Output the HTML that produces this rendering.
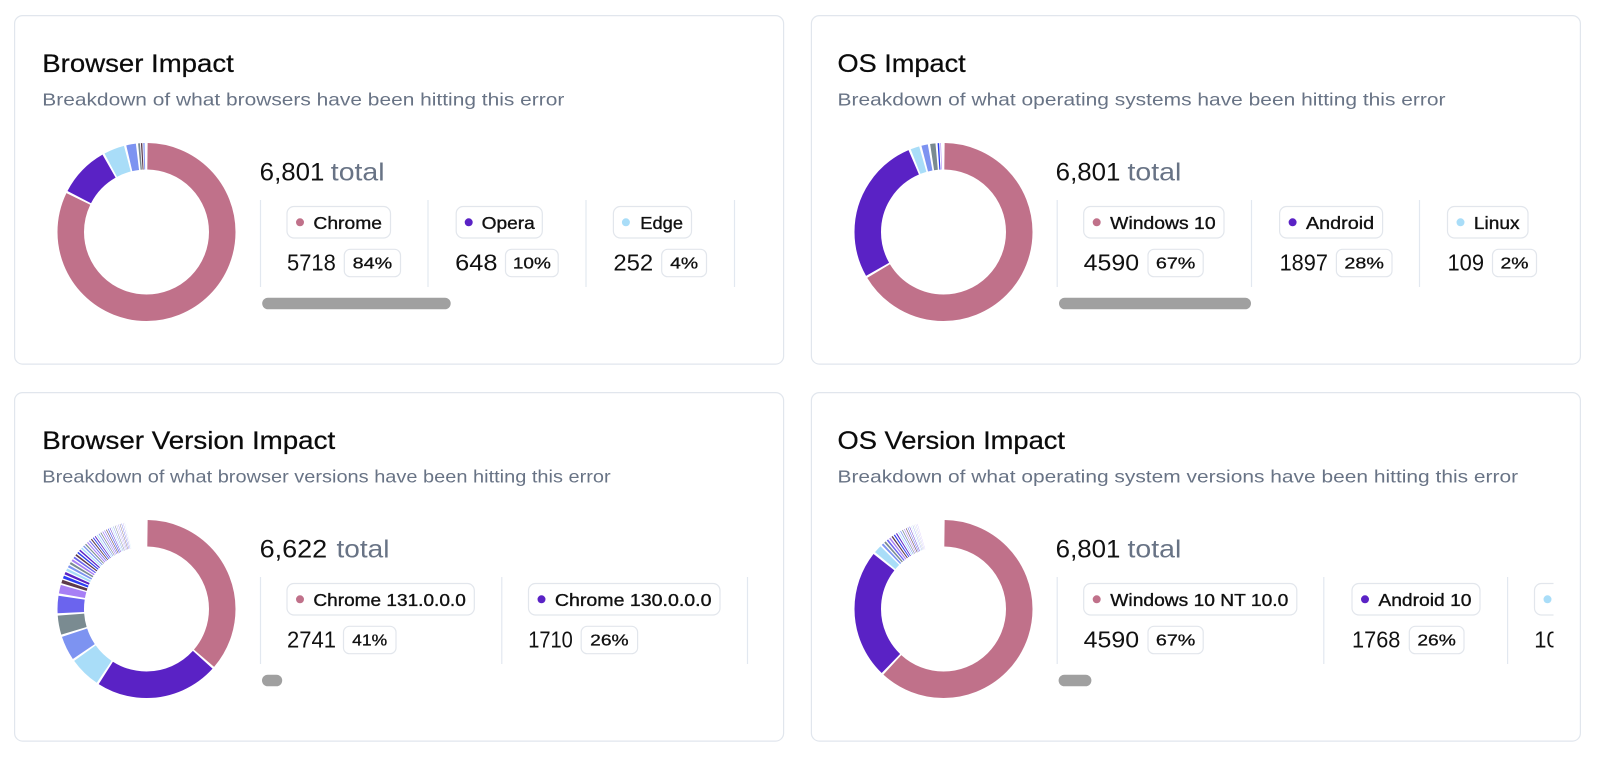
<!DOCTYPE html>
<html><head><meta charset="utf-8"><style>
html,body{margin:0;padding:0;background:#fff;width:1600px;height:768px;overflow:hidden}
svg{display:block}
text{font-family:"Liberation Sans",Arial,sans-serif}
.t{font-size:25px;fill:#0b0b0b;stroke:#0b0b0b;stroke-width:0.25px}
.s{font-size:17.5px;fill:#687385}
.tot{font-size:25px;fill:#111}
.totg{font-size:25px;fill:#687385}
.pl{font-size:17.5px;fill:#111;stroke:#111;stroke-width:0.35px}
.num{font-size:23px;fill:#111}
.bd{font-size:16px;fill:#111;stroke:#111;stroke-width:0.3px}
.pill{fill:#fff;stroke:#e2e6ec;stroke-width:1.2}
.div{stroke:#e2e8f0;stroke-width:1.2}
.card{fill:#fff;stroke:#e1e6ed;stroke-width:1.2}
.sb{fill:#a0a0a0}
.ring circle{fill:none;stroke-width:26.5}
</style></head><body>
<svg width="1600" height="768" viewBox="0 0 1600 768" xmlns="http://www.w3.org/2000/svg">
<defs>
<clipPath id="c4"><rect x="1040" y="560" width="513.5" height="140"/></clipPath>
<clipPath id="c1"><rect x="250" y="190" width="506.5" height="130"/></clipPath>
<clipPath id="c2"><rect x="1040" y="190" width="513.5" height="130"/></clipPath>
<clipPath id="c3"><rect x="250" y="560" width="506.5" height="140"/></clipPath>
</defs>

<!-- cards -->
<rect class="card" x="14.6" y="15.6" width="769" height="348.5" rx="8"/>
<rect class="card" x="811.4" y="15.6" width="769" height="348.5" rx="8"/>
<rect class="card" x="14.6" y="392.6" width="769" height="348.5" rx="8"/>
<rect class="card" x="811.4" y="392.6" width="769" height="348.5" rx="8"/>

<!-- ================= CARD 1: Browser Impact ================= -->
<text class="t" x="42.3" y="72" textLength="191.5" lengthAdjust="spacingAndGlyphs">Browser Impact</text>
<text class="s" x="42.3" y="105.5" textLength="522" lengthAdjust="spacingAndGlyphs">Breakdown of what browsers have been hitting this error</text>

<g class="ring" transform="translate(146.5,232) rotate(-90)">
<circle r="75.75" pathLength="360" stroke="#c0718a" stroke-dasharray="295.5 400" stroke-dashoffset="-0.75"/>
<circle r="75.75" pathLength="360" stroke="#5a22c5" stroke-dasharray="33 400" stroke-dashoffset="-297.75"/>
<circle r="75.75" pathLength="360" stroke="#a9ddf8" stroke-dasharray="13.5 400" stroke-dashoffset="-332.25"/>
<circle r="75.75" pathLength="360" stroke="#7d93f1" stroke-dasharray="6.3 400" stroke-dashoffset="-347.25"/>
<circle r="75.75" pathLength="360" stroke="#7a8b91" stroke-dasharray="1.2 400" stroke-dashoffset="-355"/>
<circle r="75.75" pathLength="360" stroke="#5d3a4a" stroke-dasharray="0.9 400" stroke-dashoffset="-356.8"/>
<circle r="75.75" pathLength="360" stroke="#8a9cf5" stroke-dasharray="0.9 400" stroke-dashoffset="-358.3"/>
</g>

<text x="259.7" y="180.3" class="tot" textLength="64.7" lengthAdjust="spacingAndGlyphs">6,801</text>
<text x="330.8" y="180.3" class="totg" textLength="53.8" lengthAdjust="spacingAndGlyphs">total</text>

<g clip-path="url(#c1)">
<line class="div" x1="260.5" y1="200" x2="260.5" y2="287"/>
<line class="div" x1="428" y1="200" x2="428" y2="287"/>
<line class="div" x1="586" y1="200" x2="586" y2="287"/>
<line class="div" x1="734.5" y1="200" x2="734.5" y2="287"/>

<rect class="pill" x="287" y="206.5" width="103.5" height="31.5" rx="7"/>
<circle cx="300" cy="222.3" r="4" fill="#c0718a"/>
<text class="pl" x="313.4" y="228.8" textLength="68.6" lengthAdjust="spacingAndGlyphs">Chrome</text>
<text class="num" x="287" y="270.7" textLength="48.8" lengthAdjust="spacingAndGlyphs">5718</text>
<rect class="pill" x="344.3" y="249.3" width="56.2" height="27.4" rx="6"/>
<text class="bd" x="372.4" y="268.7" text-anchor="middle" textLength="39.5" lengthAdjust="spacingAndGlyphs">84%</text>

<rect class="pill" x="456.2" y="206.5" width="86.1" height="31.5" rx="7"/>
<circle cx="468.7" cy="222.3" r="4" fill="#5a22c5"/>
<text class="pl" x="481.6" y="228.8" textLength="53.2" lengthAdjust="spacingAndGlyphs">Opera</text>
<text class="num" x="455.2" y="270.7" textLength="42.3" lengthAdjust="spacingAndGlyphs">648</text>
<rect class="pill" x="505.5" y="249.3" width="52.7" height="27.4" rx="6"/>
<text class="bd" x="531.85" y="268.7" text-anchor="middle" textLength="38" lengthAdjust="spacingAndGlyphs">10%</text>

<rect class="pill" x="613.4" y="206.5" width="78.1" height="31.5" rx="7"/>
<circle cx="625.9" cy="222.3" r="4" fill="#a9ddf8"/>
<text class="pl" x="640.3" y="228.8" textLength="42.7" lengthAdjust="spacingAndGlyphs">Edge</text>
<text class="num" x="613.4" y="270.7" textLength="39.8" lengthAdjust="spacingAndGlyphs">252</text>
<rect class="pill" x="661.7" y="249.3" width="44.8" height="27.4" rx="6"/>
<text class="bd" x="684.1" y="268.7" text-anchor="middle" textLength="28" lengthAdjust="spacingAndGlyphs">4%</text>
</g>
<rect class="sb" x="262.2" y="297.7" width="188.5" height="11.6" rx="5.8"/>

<!-- ================= CARD 2: OS Impact ================= -->
<text class="t" x="837.5" y="72" textLength="128.2" lengthAdjust="spacingAndGlyphs">OS Impact</text>
<text class="s" x="837.5" y="105.5" textLength="608" lengthAdjust="spacingAndGlyphs">Breakdown of what operating systems have been hitting this error</text>

<g class="ring" transform="translate(943.5,232) rotate(-90)">
<circle r="75.75" pathLength="360" stroke="#c0718a" stroke-dasharray="238.5 400" stroke-dashoffset="-0.75"/>
<circle r="75.75" pathLength="360" stroke="#5a22c5" stroke-dasharray="96.5 400" stroke-dashoffset="-240.75"/>
<circle r="75.75" pathLength="360" stroke="#a9ddf8" stroke-dasharray="5.8 400" stroke-dashoffset="-338.75"/>
<circle r="75.75" pathLength="360" stroke="#7d93f1" stroke-dasharray="4.2 400" stroke-dashoffset="-346.05"/>
<circle r="75.75" pathLength="360" stroke="#7a8b91" stroke-dasharray="3.5 400" stroke-dashoffset="-351.75"/>
<circle r="75.75" pathLength="360" stroke="#2c3cf2" stroke-dasharray="1.0 400" stroke-dashoffset="-356.6"/>
<circle r="75.75" pathLength="360" stroke="#a77ff5" stroke-dasharray="0.4 400" stroke-dashoffset="-358.4"/>
</g>

<text x="1055.7" y="180.3" class="tot" textLength="64.7" lengthAdjust="spacingAndGlyphs">6,801</text>
<text x="1127.5" y="180.3" class="totg" textLength="53.8" lengthAdjust="spacingAndGlyphs">total</text>

<g clip-path="url(#c2)">
<line class="div" x1="1057.2" y1="200" x2="1057.2" y2="287"/>
<line class="div" x1="1251.5" y1="200" x2="1251.5" y2="287"/>
<line class="div" x1="1419.5" y1="200" x2="1419.5" y2="287"/>

<rect class="pill" x="1083.7" y="206.5" width="140.3" height="31.5" rx="7"/>
<circle cx="1096.7" cy="222.3" r="4" fill="#c0718a"/>
<text class="pl" x="1110.2" y="228.8" textLength="105.4" lengthAdjust="spacingAndGlyphs">Windows 10</text>
<text class="num" x="1083.7" y="270.7" textLength="55.4" lengthAdjust="spacingAndGlyphs">4590</text>
<rect class="pill" x="1148" y="249.3" width="55.2" height="27.4" rx="6"/>
<text class="bd" x="1175.6" y="268.7" text-anchor="middle" textLength="39.5" lengthAdjust="spacingAndGlyphs">67%</text>

<rect class="pill" x="1279.6" y="206.5" width="103" height="31.5" rx="7"/>
<circle cx="1292.6" cy="222.3" r="4" fill="#5a22c5"/>
<text class="pl" x="1306" y="228.8" textLength="68.1" lengthAdjust="spacingAndGlyphs">Android</text>
<text class="num" x="1279.6" y="270.7" textLength="48.3" lengthAdjust="spacingAndGlyphs">1897</text>
<rect class="pill" x="1336.4" y="249.3" width="55.6" height="27.4" rx="6"/>
<text class="bd" x="1364.2" y="268.7" text-anchor="middle" textLength="39.5" lengthAdjust="spacingAndGlyphs">28%</text>

<rect class="pill" x="1447.5" y="206.5" width="80.5" height="31.5" rx="7"/>
<circle cx="1460.5" cy="222.3" r="4" fill="#a9ddf8"/>
<text class="pl" x="1473.9" y="228.8" textLength="45.6" lengthAdjust="spacingAndGlyphs">Linux</text>
<text class="num" x="1447.5" y="270.7" textLength="36.5" lengthAdjust="spacingAndGlyphs">109</text>
<rect class="pill" x="1492.5" y="249.3" width="44" height="27.4" rx="6"/>
<text class="bd" x="1514.5" y="268.7" text-anchor="middle" textLength="28" lengthAdjust="spacingAndGlyphs">2%</text>
</g>
<rect class="sb" x="1059" y="297.7" width="192" height="11.6" rx="5.8"/>

<!-- ================= CARD 3: Browser Version Impact ================= -->
<text class="t" x="42.3" y="449" textLength="292.9" lengthAdjust="spacingAndGlyphs">Browser Version Impact</text>
<text class="s" x="42.3" y="482.5" textLength="568.4" lengthAdjust="spacingAndGlyphs">Breakdown of what browser versions have been hitting this error</text>

<g class="ring" transform="translate(146.5,609) rotate(-90)">
<circle r="75.75" pathLength="360" stroke="#c0718a" stroke-dasharray="130 400" stroke-dashoffset="-0.75"/>
<circle r="75.75" pathLength="360" stroke="#5a22c5" stroke-dasharray="80.5 400" stroke-dashoffset="-132.25"/>
<circle r="75.75" pathLength="360" stroke="#a9ddf8" stroke-dasharray="20.4 400" stroke-dashoffset="-214.25"/>
<circle r="75.75" pathLength="360" stroke="#7d93f1" stroke-dasharray="15.9 400" stroke-dashoffset="-236.15"/>
<circle r="75.75" pathLength="360" stroke="#7a8b91" stroke-dasharray="12.5 400" stroke-dashoffset="-253.55"/>
<circle r="75.75" pathLength="360" stroke="#6b64ee" stroke-dasharray="11.4 400" stroke-dashoffset="-267.55"/>
<circle r="75.75" pathLength="360" stroke="#a77ff5" stroke-dasharray="5.6 400" stroke-dashoffset="-280.45"/>
<circle r="75.75" pathLength="360" stroke="#5d3a4a" stroke-dasharray="2.3 400" stroke-dashoffset="-287.25"/>
<circle r="75.75" pathLength="360" stroke="#2c3cf2" stroke-dasharray="1.9 400" stroke-dashoffset="-290.45"/>
<circle r="75.75" pathLength="360" stroke="#5a22c5" stroke-dasharray="1.7 400" stroke-dashoffset="-293.25"/>
<circle r="75.75" pathLength="360" stroke="#a9ddf8" stroke-dasharray="1.6 400" stroke-dashoffset="-295.85"/>
<circle r="75.75" pathLength="360" stroke="#7d93f1" stroke-dasharray="1.5 400" stroke-dashoffset="-298.35"/>
<circle r="75.75" pathLength="360" stroke="#7a8b91" stroke-dasharray="1.4 400" stroke-dashoffset="-300.75"/>
<circle r="75.75" pathLength="360" stroke="#a77ff5" stroke-dasharray="1.3 400" stroke-dashoffset="-303.05"/>
<circle r="75.75" pathLength="360" stroke="#6b64ee" stroke-dasharray="1.2 400" stroke-dashoffset="-305.25"/>
<circle r="75.75" pathLength="360" stroke="#5d3a4a" stroke-dasharray="1.1 400" stroke-dashoffset="-307.35"/>
<circle r="75.75" pathLength="360" stroke="#2c3cf2" stroke-dasharray="1.0 400" stroke-dashoffset="-309.35"/>
<circle r="75.75" pathLength="360" stroke="#5a22c5" stroke-dasharray="1.0 400" stroke-dashoffset="-311.25"/>
<circle r="75.75" pathLength="360" stroke="#a9ddf8" stroke-dasharray="0.9 400" stroke-dashoffset="-313.15"/>
<circle r="75.75" pathLength="360" stroke="#7d93f1" stroke-dasharray="0.9 400" stroke-dashoffset="-314.95"/>
<circle r="75.75" pathLength="360" stroke="#7a8b91" stroke-dasharray="0.8 400" stroke-dashoffset="-316.75"/>
<circle r="75.75" pathLength="360" stroke="#a77ff5" stroke-dasharray="0.8 400" stroke-dashoffset="-318.45"/>
<circle r="75.75" pathLength="360" stroke="#6b64ee" stroke-dasharray="0.7 400" stroke-dashoffset="-320.15"/>
<circle r="75.75" pathLength="360" stroke="#5d3a4a" stroke-dasharray="0.7 400" stroke-dashoffset="-321.75"/>
<circle r="75.75" pathLength="360" stroke="#2c3cf2" stroke-dasharray="0.6 400" stroke-dashoffset="-323.35"/>
<circle r="75.75" pathLength="360" stroke="#5a22c5" stroke-dasharray="0.6 400" stroke-dashoffset="-324.85"/>
<circle r="75.75" pathLength="360" stroke="#a9ddf8" stroke-dasharray="0.6 400" stroke-dashoffset="-326.35"/>
<circle r="75.75" pathLength="360" stroke="#7d93f1" stroke-dasharray="0.5 400" stroke-dashoffset="-327.85"/>
<circle r="75.75" pathLength="360" stroke="#7a8b91" stroke-dasharray="0.5 400" stroke-dashoffset="-329.25"/>
<circle r="75.75" pathLength="360" stroke="#a77ff5" stroke-dasharray="0.5 400" stroke-dashoffset="-330.65"/>
<circle r="75.75" pathLength="360" stroke="#6b64ee" stroke-dasharray="0.4 400" stroke-dashoffset="-332.05"/>
<circle r="75.75" pathLength="360" stroke="#5d3a4a" stroke-dasharray="0.4 400" stroke-dashoffset="-333.35"/>
<circle r="75.75" pathLength="360" stroke="#2c3cf2" stroke-dasharray="0.4 400" stroke-dashoffset="-334.65"/>
<circle r="75.75" pathLength="360" stroke="#5a22c5" stroke-dasharray="0.3 400" stroke-dashoffset="-335.95"/>
<circle r="75.75" pathLength="360" stroke="#a9ddf8" stroke-dasharray="0.3 400" stroke-dashoffset="-337.15"/>
<circle r="75.75" pathLength="360" stroke="#7d93f1" stroke-dasharray="0.3 400" stroke-dashoffset="-338.35"/>
<circle r="75.75" pathLength="360" stroke="#7a8b91" stroke-dasharray="0.3 400" stroke-dashoffset="-339.55"/>
<circle r="75.75" pathLength="360" stroke="#a77ff5" stroke-dasharray="0.2 400" stroke-dashoffset="-340.75"/>
<circle r="75.75" pathLength="360" stroke="#6b64ee" stroke-dasharray="0.2 400" stroke-dashoffset="-341.85"/>
<circle r="75.75" pathLength="360" stroke="#5d3a4a" stroke-dasharray="0.2 400" stroke-dashoffset="-342.95"/>
<circle r="75.75" pathLength="360" stroke="#2c3cf2" stroke-dasharray="0.2 400" stroke-dashoffset="-344.05"/>
<circle r="75.75" pathLength="360" stroke="#5a22c5" stroke-dasharray="0.1 400" stroke-dashoffset="-345.15"/>
<circle r="75.75" pathLength="360" stroke="#a9ddf8" stroke-dasharray="0.1 400" stroke-dashoffset="-346.15"/>
</g>

<text x="259.6" y="557.3" class="tot" textLength="67.6" lengthAdjust="spacingAndGlyphs">6,622</text>
<text x="336.5" y="557.3" class="totg" textLength="53" lengthAdjust="spacingAndGlyphs">total</text>

<g clip-path="url(#c3)">
<line class="div" x1="260.5" y1="577" x2="260.5" y2="664"/>
<line class="div" x1="501.8" y1="577" x2="501.8" y2="664"/>
<line class="div" x1="747.5" y1="577" x2="747.5" y2="664"/>

<rect class="pill" x="287" y="583.5" width="187.3" height="31.5" rx="7"/>
<circle cx="300" cy="599.3" r="4" fill="#c0718a"/>
<text class="pl" x="313.4" y="605.8" textLength="152.4" lengthAdjust="spacingAndGlyphs">Chrome 131.0.0.0</text>
<text class="num" x="287" y="647.7" textLength="49" lengthAdjust="spacingAndGlyphs">2741</text>
<rect class="pill" x="343.5" y="626.3" width="52.5" height="27.4" rx="6"/>
<text class="bd" x="369.7" y="645.7" text-anchor="middle" textLength="35" lengthAdjust="spacingAndGlyphs">41%</text>

<rect class="pill" x="528.5" y="583.5" width="191.5" height="31.5" rx="7"/>
<circle cx="541.5" cy="599.3" r="4" fill="#5a22c5"/>
<text class="pl" x="554.9" y="605.8" textLength="156.6" lengthAdjust="spacingAndGlyphs">Chrome 130.0.0.0</text>
<text class="num" x="528.2" y="647.7" textLength="44.6" lengthAdjust="spacingAndGlyphs">1710</text>
<rect class="pill" x="581.2" y="626.3" width="56.4" height="27.4" rx="6"/>
<text class="bd" x="609.4" y="645.7" text-anchor="middle" textLength="38.5" lengthAdjust="spacingAndGlyphs">26%</text>
</g>
<rect class="sb" x="262" y="674.7" width="20.2" height="11.6" rx="5.8"/>

<!-- ================= CARD 4: OS Version Impact ================= -->
<text class="t" x="837.5" y="449" textLength="227.5" lengthAdjust="spacingAndGlyphs">OS Version Impact</text>
<text class="s" x="837.5" y="482.5" textLength="680.6" lengthAdjust="spacingAndGlyphs">Breakdown of what operating system versions have been hitting this error</text>

<g class="ring" transform="translate(943.5,609) rotate(-90)">
<circle r="75.75" pathLength="360" stroke="#c0718a" stroke-dasharray="222 400" stroke-dashoffset="-0.75"/>
<circle r="75.75" pathLength="360" stroke="#5a22c5" stroke-dasharray="84.3 400" stroke-dashoffset="-224.25"/>
<circle r="75.75" pathLength="360" stroke="#a9ddf8" stroke-dasharray="5.2 400" stroke-dashoffset="-310.05"/>
<circle r="75.75" pathLength="360" stroke="#7d93f1" stroke-dasharray="1.3 400" stroke-dashoffset="-316.45"/>
<circle r="75.75" pathLength="360" stroke="#7a8b91" stroke-dasharray="1.2 400" stroke-dashoffset="-318.65"/>
<circle r="75.75" pathLength="360" stroke="#6b64ee" stroke-dasharray="1.1 400" stroke-dashoffset="-320.75"/>
<circle r="75.75" pathLength="360" stroke="#a77ff5" stroke-dasharray="1.0 400" stroke-dashoffset="-322.75"/>
<circle r="75.75" pathLength="360" stroke="#5d3a4a" stroke-dasharray="0.9 400" stroke-dashoffset="-324.65"/>
<circle r="75.75" pathLength="360" stroke="#2c3cf2" stroke-dasharray="0.8 400" stroke-dashoffset="-326.45"/>
<circle r="75.75" pathLength="360" stroke="#5a22c5" stroke-dasharray="0.7 400" stroke-dashoffset="-328.15"/>
<circle r="75.75" pathLength="360" stroke="#a9ddf8" stroke-dasharray="0.6 400" stroke-dashoffset="-329.75"/>
<circle r="75.75" pathLength="360" stroke="#7d93f1" stroke-dasharray="0.5 400" stroke-dashoffset="-331.25"/>
<circle r="75.75" pathLength="360" stroke="#7a8b91" stroke-dasharray="0.5 400" stroke-dashoffset="-332.65"/>
<circle r="75.75" pathLength="360" stroke="#a77ff5" stroke-dasharray="0.4 400" stroke-dashoffset="-334.05"/>
<circle r="75.75" pathLength="360" stroke="#5d3a4a" stroke-dasharray="0.4 400" stroke-dashoffset="-335.35"/>
<circle r="75.75" pathLength="360" stroke="#2c3cf2" stroke-dasharray="0.3 400" stroke-dashoffset="-336.65"/>
<circle r="75.75" pathLength="360" stroke="#5a22c5" stroke-dasharray="0.3 400" stroke-dashoffset="-337.85"/>
<circle r="75.75" pathLength="360" stroke="#a9ddf8" stroke-dasharray="0.2 400" stroke-dashoffset="-339.05"/>
<circle r="75.75" pathLength="360" stroke="#7d93f1" stroke-dasharray="0.2 400" stroke-dashoffset="-340.15"/>
<circle r="75.75" pathLength="360" stroke="#7a8b91" stroke-dasharray="0.1 400" stroke-dashoffset="-341.25"/>
<circle r="75.75" pathLength="360" stroke="#6b64ee" stroke-dasharray="0.1 400" stroke-dashoffset="-342.25"/>
<circle r="75.75" pathLength="360" stroke="#a77ff5" stroke-dasharray="0.1 400" stroke-dashoffset="-343.25"/>
</g>

<text x="1055.7" y="557.3" class="tot" textLength="64.7" lengthAdjust="spacingAndGlyphs">6,801</text>
<text x="1127.5" y="557.3" class="totg" textLength="53.8" lengthAdjust="spacingAndGlyphs">total</text>

<g clip-path="url(#c4)">
<line class="div" x1="1057.2" y1="577" x2="1057.2" y2="664"/>
<line class="div" x1="1323.8" y1="577" x2="1323.8" y2="664"/>
<line class="div" x1="1507.6" y1="577" x2="1507.6" y2="664"/>

<rect class="pill" x="1083.7" y="583.5" width="213.1" height="31.5" rx="7"/>
<circle cx="1096.7" cy="599.3" r="4" fill="#c0718a"/>
<text class="pl" x="1110.3" y="605.8" textLength="178" lengthAdjust="spacingAndGlyphs">Windows 10 NT 10.0</text>
<text class="num" x="1083.7" y="647.7" textLength="55.4" lengthAdjust="spacingAndGlyphs">4590</text>
<rect class="pill" x="1148" y="626.3" width="55.2" height="27.4" rx="6"/>
<text class="bd" x="1175.6" y="645.7" text-anchor="middle" textLength="39.5" lengthAdjust="spacingAndGlyphs">67%</text>

<rect class="pill" x="1352" y="583.5" width="128" height="31.5" rx="7"/>
<circle cx="1365" cy="599.3" r="4" fill="#5a22c5"/>
<text class="pl" x="1378.4" y="605.8" textLength="93.1" lengthAdjust="spacingAndGlyphs">Android 10</text>
<text class="num" x="1352" y="647.7" textLength="48.4" lengthAdjust="spacingAndGlyphs">1768</text>
<rect class="pill" x="1409.3" y="626.3" width="54.7" height="27.4" rx="6"/>
<text class="bd" x="1436.6" y="645.7" text-anchor="middle" textLength="38.5" lengthAdjust="spacingAndGlyphs">26%</text>

<rect class="pill" x="1534.5" y="583.5" width="110" height="31.5" rx="7"/>
<circle cx="1547.5" cy="599.3" r="4" fill="#a9ddf8"/>
<text class="pl" x="1561" y="605.8">Windows 7</text>
<text class="num" x="1534.3" y="647.7" textLength="36.5" lengthAdjust="spacingAndGlyphs">109</text>
</g>
<rect class="sb" x="1058.6" y="674.7" width="32.8" height="11.6" rx="5.8"/>
</svg>
</body></html>
